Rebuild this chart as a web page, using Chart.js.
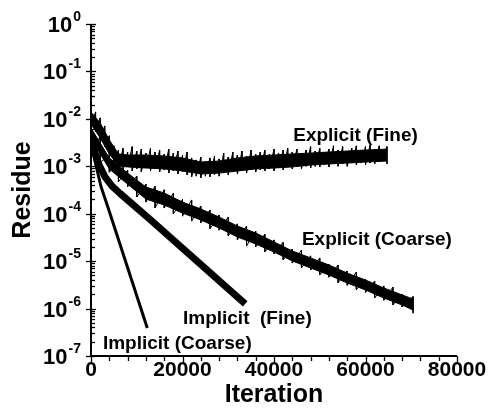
<!DOCTYPE html>
<html>
<head>
<meta charset="utf-8">
<script src="https://cdn.jsdelivr.net/npm/chart.js@4"></script>
<style>
  html, body { margin: 0; padding: 0; background: #fff; }
  #wrap { width: 493px; height: 412px; position: relative; }
</style>
</head>
<body>
<div id="wrap"><canvas id="residueChart"></canvas></div>
<script>
// Explicit (Fine): spike tops / bottoms of the oscillating residue
const expFineIter = [0, 1000, 2000, 3000, 4000, 5000, 6000, 7000, 8000, 9000,
  10000, 11000, 12000, 13000, 14000, 15000, 16000, 17000, 18000, 19000,
  20000, 21000, 22000, 23000, 24000, 25000, 26000, 27000, 28000, 29000,
  30000, 31000, 32000, 33000, 34000, 35000, 36000, 37000, 38000, 39000,
  40000, 41000, 42000, 43000, 44000, 45000, 46000, 47000, 48000, 49000,
  50000, 51000, 52000, 53000, 54000, 55000, 56000, 57000, 58000, 59000,
  60000, 61000, 62000, 63000, 64700];
const expFineHigh = [1.7e-2, 1.4e-2, 1.05e-2, 7.1e-3, 4.4e-3, 2.7e-3, 2.2e-3, 2.4e-3, 2.0e-3, 2.6e-3,
  2.1e-3, 2.3e-3, 1.9e-3, 2.4e-3, 2.0e-3, 2.2e-3, 1.8e-3, 2.3e-3, 1.9e-3, 2.1e-3,
  1.7e-3, 2.0e-3, 1.5e-3, 1.36e-3, 1.57e-3, 1.29e-3, 1.5e-3, 1.65e-3, 1.43e-3, 1.9e-3,
  1.57e-3, 2.0e-3, 1.73e-3, 2.1e-3, 1.65e-3, 2.2e-3, 1.8e-3, 2.0e-3, 2.2e-3, 1.8e-3,
  2.3e-3, 1.9e-3, 2.2e-3, 2.4e-3, 2.0e-3, 2.3e-3, 1.9e-3, 2.2e-3, 2.6e-3, 2.1e-3,
  2.4e-3, 2.0e-3, 2.3e-3, 2.7e-3, 2.2e-3, 2.6e-3, 2.1e-3, 2.4e-3, 2.7e-3, 2.2e-3,
  2.6e-3, 2.8e-3, 2.3e-3, 2.7e-3, 2.6e-3];
const expFineLow = [7.4e-3, 5.3e-3, 3.6e-3, 2.6e-3, 1.73e-3, 1.17e-3, 9.2e-4, 8.4e-4, 9.7e-4, 8.0e-4,
  8.8e-4, 7.6e-4, 9.2e-4, 8.0e-4, 8.8e-4, 7.6e-4, 8.4e-4, 7.2e-4, 8.0e-4, 6.9e-4,
  7.6e-4, 6.6e-4, 6.0e-4, 6.2e-4, 5.7e-4, 6.2e-4, 6.0e-4, 6.6e-4, 6.2e-4, 7.2e-4,
  6.6e-4, 7.6e-4, 6.9e-4, 8.0e-4, 7.2e-4, 8.4e-4, 7.6e-4, 8.4e-4, 8.0e-4, 8.8e-4,
  8.0e-4, 9.2e-4, 8.4e-4, 9.7e-4, 8.8e-4, 9.7e-4, 8.8e-4, 1.0e-3, 9.2e-4, 1.0e-3,
  9.7e-4, 1.07e-3, 9.7e-4, 1.12e-3, 1.0e-3, 1.12e-3, 1.0e-3, 1.17e-3, 1.07e-3, 1.17e-3,
  1.07e-3, 1.17e-3, 1.12e-3, 1.23e-3, 1.12e-3];
// Explicit (Fine): solid core of the band
const expFineCoreIter = [0, 2000, 4000, 6000, 8000, 12000, 16000, 20000, 24000, 28000,
  32000, 36000, 40000, 44000, 48000, 52000, 56000, 60000, 64700];
const expFineCoreHigh = [1.4e-2, 8.2e-3, 3.6e-3, 1.82e-3, 1.73e-3, 1.73e-3, 1.65e-3, 1.5e-3, 1.23e-3, 1.29e-3,
  1.5e-3, 1.65e-3, 1.73e-3, 1.82e-3, 1.9e-3, 2.0e-3, 2.1e-3, 2.2e-3, 2.3e-3];
const expFineCoreLow = [7.8e-3, 3.95e-3, 1.82e-3, 1.01e-3, 9.7e-4, 9.2e-4, 8.8e-4, 7.95e-4, 6.9e-4, 7.2e-4,
  7.95e-4, 8.8e-4, 9.2e-4, 9.7e-4, 1.065e-3, 1.12e-3, 1.17e-3, 1.23e-3, 1.29e-3];

// Explicit (Coarse): spike tops / bottoms
const expCoarseIter = [0, 2000, 4000, 6000, 8000, 10000, 12000, 14000, 16000, 18000,
  20000, 22000, 24000, 26000, 28000, 30000, 32000, 34000, 36000, 38000,
  40000, 42000, 44000, 46000, 48000, 50000, 52000, 54000, 56000, 58000,
  60000, 62000, 64000, 66000, 68000, 70400];
const expCoarseHigh = [7.4e-3, 3.9e-3, 1.7e-3, 1.3e-3, 8.3e-4, 6.2e-4, 4.2e-4, 3.8e-4, 3.2e-4, 2.7e-4,
  2.0e-4, 1.95e-4, 1.45e-4, 1.2e-4, 9.4e-5, 8.5e-5, 6.1e-5, 5.5e-5, 4.3e-5, 3.7e-5,
  2.8e-5, 2.5e-5, 1.8e-5, 1.7e-5, 1.29e-5, 1.17e-5, 8.7e-6, 8.3e-6, 6.2e-6, 5.9e-6,
  4.2e-6, 3.8e-6, 3.0e-6, 2.85e-6, 2.03e-6, 1.8e-6];
const expCoarseLow = [3.2e-3, 1.2e-3, 7.5e-4, 4.7e-4, 3.7e-4, 2.25e-4, 1.76e-4, 1.32e-4, 1.32e-4, 9.9e-5,
  8.9e-5, 7.0e-5, 6.4e-5, 4.8e-5, 4.5e-5, 3.4e-5, 2.8e-5, 2.1e-5, 2.0e-5, 1.56e-5,
  1.42e-5, 1.06e-5, 9.1e-6, 7.2e-6, 6.5e-6, 5.1e-6, 4.6e-6, 3.5e-6, 3.1e-6, 2.5e-6,
  2.2e-6, 1.67e-6, 1.5e-6, 1.19e-6, 1.08e-6, 8.0e-7];
// Explicit (Coarse): solid core
const expCoarseCoreIter = [0, 4000, 8000, 12000, 16000, 20000, 24000, 28000, 32000, 36000,
  40000, 44000, 48000, 52000, 56000, 60000, 64000, 68000, 70400];
const expCoarseCoreHigh = [6.4e-3, 1.5e-3, 7.2e-4, 3.65e-4, 2.73e-4, 1.76e-4, 1.26e-4, 8.5e-5, 5.5e-5, 3.93e-5,
  2.54e-5, 1.64e-5, 1.17e-5, 8.3e-6, 5.6e-6, 4.0e-6, 2.72e-6, 1.94e-6, 1.59e-6];
const expCoarseCoreLow = [3.8e-3, 8.8e-4, 4.2e-4, 2.04e-4, 1.53e-4, 1.03e-4, 7.4e-5, 5.0e-5, 3.24e-5, 2.3e-5,
  1.56e-5, 1.01e-5, 7.2e-6, 5.1e-6, 3.46e-6, 2.47e-6, 1.67e-6, 1.19e-6, 9.3e-7];

// Implicit runs are smooth
const impFineIter = [0, 700, 1750, 3100, 4600, 6300, 12900, 33700];
const impFineRes = [3.6e-3, 2.2e-3, 1.07e-3, 5.9e-4, 3.8e-4, 2.7e-4, 7.6e-5, 1.25e-6];
const impCoarseIter = [0, 450, 2200, 3900, 12300];
const impCoarseRes = [3.0e-3, 1.9e-3, 3.7e-4, 1.2e-4, 3.9e-7];

// annotations, anchored in data units
const noteText = ['Explicit (Fine)', 'Explicit (Coarse)', 'Implicit  (Fine)', 'Implicit (Coarse)'];
const noteIter = [44200, 46100, 20100, 2600];
const noteRes = [4.35e-3, 2.8e-5, 6.0e-7, 1.8e-7];

const xTicks = [0, 20000, 40000, 60000, 80000];
const xMinorStep = 4000;
const yExponents = [0, -1, -2, -3, -4, -5, -6, -7];

const FONT = '"Liberation Sans", Arial, sans-serif';
const pts = (xs, ys) => xs.map((v, i) => ({ x: v, y: ys[i] }));
// vertical strokes between spike top and bottom at each sampled iteration
const spikes = (xs, hi, lo) => xs.flatMap((v, i) => [{ x: v, y: hi[i] }, { x: v, y: lo[i] }]);

const lineBase = { borderColor: '#000', pointRadius: 0, tension: 0, fill: false };

const axisDecor = {
  id: 'axisDecor',
  afterDraw(chart) {
    const { ctx, chartArea: a, scales: { x, y } } = chart;
    ctx.save();
    ctx.strokeStyle = '#000';
    ctx.fillStyle = '#000';

    ctx.lineWidth = 2;
    ctx.beginPath();
    ctx.moveTo(a.left, a.top);
    ctx.lineTo(a.left, a.bottom);
    ctx.lineTo(a.right, a.bottom);
    ctx.stroke();

    ctx.lineWidth = 1.3;
    yExponents.forEach(e => {
      const py = Math.round(y.getPixelForValue(Math.pow(10, e))) + 0.5;
      ctx.beginPath();
      ctx.moveTo(a.left - 5, py);
      ctx.lineTo(a.left + 5, py);
      ctx.stroke();
      if (e < 0) {
        for (let m = 2; m <= 9; m++) {
          const pm = Math.round(y.getPixelForValue(m * Math.pow(10, e))) + 0.5;
          ctx.beginPath();
          ctx.moveTo(a.left, pm);
          ctx.lineTo(a.left + 4, pm);
          ctx.stroke();
        }
      }
      const sup = String(e);
      ctx.font = 'bold 14px ' + FONT;
      const supW = ctx.measureText(sup).width;
      const right = 81;
      ctx.textAlign = 'left';
      ctx.textBaseline = 'middle';
      ctx.fillText(sup, right - supW, py - 7);
      ctx.font = 'bold 22px ' + FONT;
      ctx.textAlign = 'right';
      ctx.fillText('10', right - supW - 1, py + 1);
    });

    for (let v = 0; v <= x.max; v += xMinorStep) {
      const px = Math.round(x.getPixelForValue(v)) + 0.5;
      const major = xTicks.includes(v);
      ctx.beginPath();
      ctx.moveTo(px, a.bottom);
      ctx.lineTo(px, a.bottom + (major ? 8 : 5));
      ctx.stroke();
    }
    ctx.font = 'bold 21px ' + FONT;
    ctx.textAlign = 'center';
    ctx.textBaseline = 'middle';
    xTicks.forEach(v => ctx.fillText(String(v), x.getPixelForValue(v), a.bottom + 14));

    ctx.font = 'bold 25px ' + FONT;
    ctx.fillText('Iteration', (a.left + a.right) / 2, a.bottom + 39);
    ctx.save();
    ctx.translate(23, (a.top + a.bottom) / 2);
    ctx.rotate(-Math.PI / 2);
    ctx.fillText('Residue', 0, 0);
    ctx.restore();

    ctx.font = 'bold 19px ' + FONT;
    ctx.textAlign = 'left';
    noteText.forEach((t, i) => {
      ctx.fillText(t, x.getPixelForValue(noteIter[i]), y.getPixelForValue(noteRes[i]));
    });
    ctx.restore();
  }
};

new Chart(document.getElementById('residueChart'), {
  type: 'line',
  data: {
    datasets: [
      { ...lineBase, label: 'Explicit (Fine) core top', data: pts(expFineCoreIter, expFineCoreHigh), borderWidth: 1 },
      { ...lineBase, label: 'Explicit (Fine) core', data: pts(expFineCoreIter, expFineCoreLow), borderWidth: 1,
        fill: '-1', backgroundColor: '#000' },
      { ...lineBase, label: 'Explicit (Fine)', data: spikes(expFineIter, expFineHigh, expFineLow), borderWidth: 1 },
      { ...lineBase, label: 'Explicit (Coarse) core top', data: pts(expCoarseCoreIter, expCoarseCoreHigh), borderWidth: 1 },
      { ...lineBase, label: 'Explicit (Coarse) core', data: pts(expCoarseCoreIter, expCoarseCoreLow), borderWidth: 1,
        fill: '-1', backgroundColor: '#000' },
      { ...lineBase, label: 'Explicit (Coarse)', data: spikes(expCoarseIter, expCoarseHigh, expCoarseLow), borderWidth: 1 },
      { ...lineBase, label: 'Implicit (Fine)', data: pts(impFineIter, impFineRes), borderWidth: 7,
        borderJoinStyle: 'round' },
      { ...lineBase, label: 'Implicit (Coarse)', data: pts(impCoarseIter, impCoarseRes), borderWidth: 3,
        borderJoinStyle: 'round' }
    ]
  },
  options: {
    responsive: true,
    maintainAspectRatio: false,
    animation: false,
    layout: { padding: { top: 24, right: 36, left: 0, bottom: 0 } },
    plugins: { legend: { display: false }, tooltip: { enabled: false } },
    scales: {
      x: {
        type: 'linear', min: 0, max: 80000,
        grid: { display: false }, border: { display: false },
        ticks: { display: false },
        afterFit: s => { s.height = 56; }
      },
      y: {
        type: 'logarithmic', min: 1e-7, max: 1,
        grid: { display: false }, border: { display: false },
        ticks: { display: false },
        afterFit: s => { s.width = 91; }
      }
    }
  },
  plugins: [axisDecor]
});
</script>
</body>
</html>
